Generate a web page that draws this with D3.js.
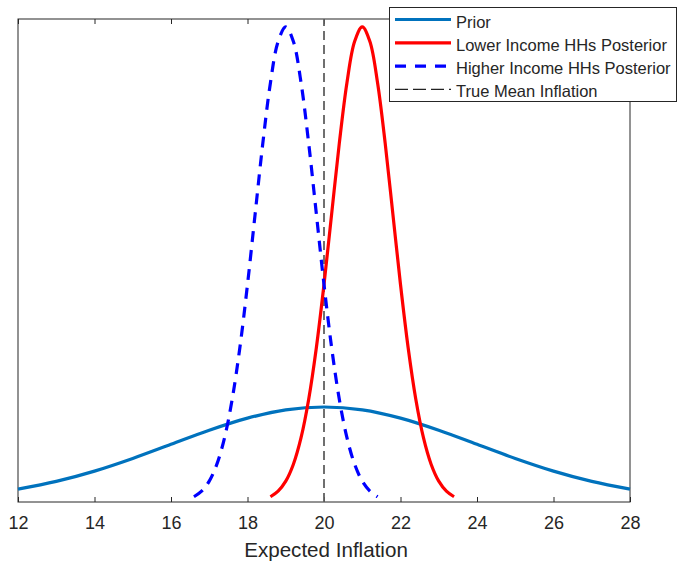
<!DOCTYPE html>
<html>
<head>
<meta charset="utf-8">
<script src="https://cdn.jsdelivr.net/npm/d3@7"></script>
<style>
  body { margin: 0; background: #fff; }
  text { font-family: "Liberation Sans", Arial, sans-serif; fill: #262626; }
</style>
</head>
<body>
<div id="chart"></div>
<script>
// x ticks
const xTicks = [12, 14, 16, 18, 20, 22, 24, 26, 28];

// prior density
const priorX = [12, 13, 14, 15, 16, 17, 18, 19, 20, 21, 22, 23, 24, 25, 26, 27, 28];
const priorY = [0.0135, 0.0216, 0.0324, 0.0457, 0.0605, 0.0753, 0.0880, 0.0967, 0.0997,
  0.0967, 0.0880, 0.0753, 0.0605, 0.0457, 0.0324, 0.0216, 0.0135];

// lower income posterior
const lowX = [18.6, 18.8, 19.0, 19.2, 19.4, 19.6, 19.8, 20.0, 20.2, 20.4, 20.6, 20.8, 21.0,
  21.2, 21.4, 21.6, 21.8, 22.0, 22.2, 22.4, 22.6, 22.8, 23.0, 23.2, 23.4];
const lowY = [0.0055, 0.0114, 0.0219, 0.0397, 0.0675, 0.1079, 0.1619, 0.2283, 0.3025, 0.3764,
  0.4401, 0.4833, 0.4987, 0.4833, 0.4401, 0.3764, 0.3025, 0.2283, 0.1619, 0.1079, 0.0675,
  0.0397, 0.0219, 0.0114, 0.0055];

// higher income posterior
const highX = [16.6, 16.8, 17.0, 17.2, 17.4, 17.6, 17.8, 18.0, 18.2, 18.4, 18.6, 18.8, 19.0,
  19.2, 19.4, 19.6, 19.8, 20.0, 20.2, 20.4, 20.6, 20.8, 21.0, 21.2, 21.4];
const highY = [0.0055, 0.0114, 0.0219, 0.0397, 0.0675, 0.1079, 0.1619, 0.2283, 0.3025, 0.3764,
  0.4401, 0.4833, 0.4987, 0.4833, 0.4401, 0.3764, 0.3025, 0.2283, 0.1619, 0.1079, 0.0675,
  0.0397, 0.0219, 0.0114, 0.0055];

const trueMean = 20;
const legendNames = ["Prior", "Lower Income HHs Posterior", "Higher Income HHs Posterior", "True Mean Inflation"];

const W = 679, H = 561;
const mLeft = 18, mRight = 630, mTop = 19, mBottom = 502;

const svg = d3.select("#chart").append("svg")
  .attr("width", W)
  .attr("height", H);

const x = d3.scaleLinear().domain([12, 28]).range([mLeft, mRight]);
const y = d3.scaleLinear().domain([0, 0.507]).range([mBottom, mTop]);

// box + ticks
svg.append("rect")
  .attr("x", mLeft).attr("y", mTop)
  .attr("width", mRight - mLeft).attr("height", mBottom - mTop)
  .attr("fill", "none").attr("stroke", "#262626").attr("stroke-width", 1);

const xAxis = svg.append("g")
  .attr("transform", "translate(0," + mBottom + ")")
  .call(d3.axisBottom(x).tickValues(xTicks).tickSizeInner(-5).tickSizeOuter(0).tickPadding(10));
xAxis.select(".domain").remove();
xAxis.selectAll("line").attr("stroke", "#262626");
xAxis.selectAll("text")
  .style("font-size", "18px")
  .attr("fill", "#262626")
  .attr("y", 27).attr("dy", 0);

const xTop = svg.append("g")
  .attr("transform", "translate(0," + mTop + ")")
  .call(d3.axisTop(x).tickValues(xTicks).tickSizeInner(-5).tickSizeOuter(0).tickFormat(""));
xTop.select(".domain").remove();
xTop.selectAll("line").attr("stroke", "#262626");

svg.append("text")
  .attr("x", (mLeft + mRight) / 2 + 2)
  .attr("y", 557)
  .attr("text-anchor", "middle")
  .style("font-size", "20.6px")
  .text("Expected Inflation");

const line = d3.line()
  .x(d => x(d[0]))
  .y(d => y(d[1]))
  .curve(d3.curveCatmullRom);

// true mean
svg.append("line")
  .attr("x1", x(trueMean)).attr("x2", x(trueMean))
  .attr("y1", y(0)).attr("y2", mTop)
  .attr("stroke", "#606060")
  .attr("stroke-width", 1.8)
  .attr("stroke-dasharray", "9,5");

const series = [
  {xs: priorX, ys: priorY, color: "#0072BD", dash: null},
  {xs: lowX, ys: lowY, color: "#FF0000", dash: null},
  {xs: highX, ys: highY, color: "#0000FF", dash: "11,8"}
];

series.forEach(s => {
  svg.append("path")
    .datum(d3.zip(s.xs, s.ys))
    .attr("d", line)
    .attr("fill", "none")
    .attr("stroke", s.color)
    .attr("stroke-width", 3.2)
    .attr("stroke-dasharray", s.dash);
});

// legend
const lg = svg.append("g").attr("class", "legend");
lg.append("rect")
  .attr("x", 389.5).attr("y", 7.5)
  .attr("width", 287).attr("height", 94)
  .attr("fill", "#fff").attr("stroke", "#262626").attr("stroke-width", 1);

const legendStyle = [
  {color: "#0072BD", width: 3.2, dash: null},
  {color: "#FF0000", width: 3.2, dash: null},
  {color: "#0000FF", width: 3.2, dash: "11,9"},
  {color: "#222", width: 1.3, dash: "13,5"}
];

const rows = lg.selectAll("g.row")
  .data(legendNames)
  .enter().append("g")
  .attr("class", "row")
  .attr("transform", (d, i) => "translate(0," + (19.5 + i * 23.3) + ")");

rows.append("line")
  .attr("x1", 395).attr("x2", 451)
  .attr("stroke", (d, i) => legendStyle[i].color)
  .attr("stroke-width", (d, i) => legendStyle[i].width)
  .attr("stroke-dasharray", (d, i) => legendStyle[i].dash);

rows.append("text")
  .attr("x", 456)
  .attr("y", 2)
  .attr("dominant-baseline", "central")
  .style("font-size", "16.5px")
  .attr("fill", "#000")
  .text(d => d);
</script>
</body>
</html>
